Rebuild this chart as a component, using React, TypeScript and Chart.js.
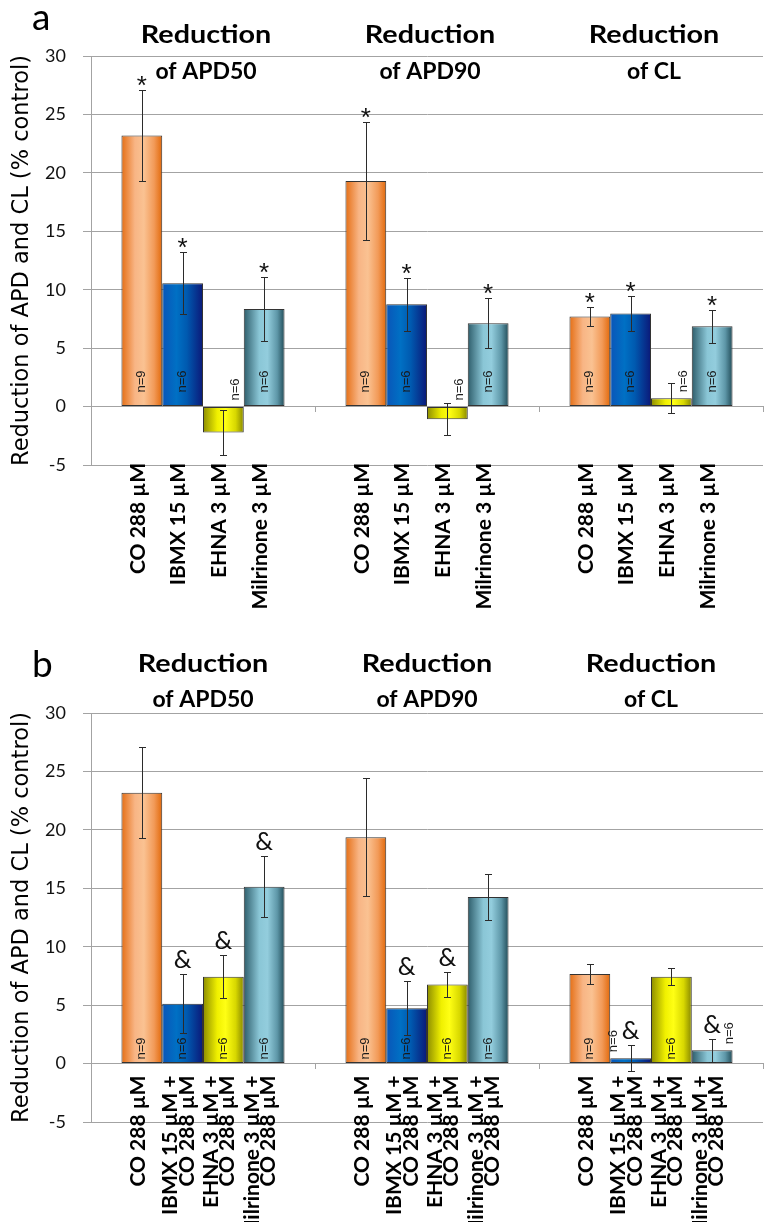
import React, { useEffect, useRef } from "react";
import { Chart, registerables } from "chart.js";

Chart.register(...registerables);

// ---------- shared categories / text ----------
const GROUPS = ["APD50", "APD90", "CL"];
const TITLE_TOP = "Reduction";
const TITLE_BOTTOM = ["of APD50", "of APD90", "of CL"];
const Y_TITLE = "Reduction of APD and CL (% control)";
const Y_MIN = -5;
const Y_MAX = 30;
const Y_STEP = 5;
const SERIES_NAMES = ["CO 288", "IBMX 15", "EHNA 3", "Milrinone 3"];
const N_LABELS = ["n=9", "n=6", "n=6", "n=6"];

// ---------- panel a ----------
const A_BAR_LABELS = ["CO 288 µM", "IBMX 15 µM", "EHNA 3 µM", "Milrinone 3 µM"];
const A_CO = [23.2, 19.3, 7.7];
const A_CO_ERR = [3.9, 5.05, 0.83];
const A_IBMX = [10.55, 8.75, 7.96];
const A_IBMX_ERR = [2.65, 2.25, 1.48];
const A_EHNA = [-2.22, -1.08, 0.71];
const A_EHNA_ERR = [1.95, 1.37, 1.27];
const A_MIL = [8.35, 7.13, 6.87];
const A_MIL_ERR = [2.75, 2.14, 1.41];
const A_SIG_CO = [true, true, true];
const A_SIG_IBMX = [true, true, true];
const A_SIG_EHNA = [false, false, false];
const A_SIG_MIL = [true, true, true];

// ---------- panel b ----------
const B_BAR_LABELS = [
  "CO 288 µM",
  ["IBMX 15 µM +", "CO 288 µM"],
  ["EHNA 3 µM +", "CO 288 µM"],
  ["Milrinone 3 µM +", "CO 288 µM"],
];
const B_CO = [23.17, 19.36, 7.66];
const B_CO_ERR = [3.9, 5.05, 0.84];
const B_IBMX = [5.12, 4.73, 0.46];
const B_IBMX_ERR = [2.53, 2.3, 1.12];
const B_EHNA = [7.43, 6.77, 7.43];
const B_EHNA_ERR = [1.82, 1.04, 0.72];
const B_MIL = [15.14, 14.26, 1.14];
const B_MIL_ERR = [2.63, 1.98, 0.98];
const B_SIG_CO = [false, false, false];
const B_SIG_IBMX = [true, true, true];
const B_SIG_EHNA = [true, true, false];
const B_SIG_MIL = [true, false, true];

// ---------- styles ----------
const GRID = "#a3a3a3";
const BORDER = "#333333";
const ERR_COLOR = "#2b2b2b";
const CAT_PCT = 0.728;
const BAR_PCT = 1.0;
const GRADIENTS: [number, string][][] = [
  [[0, "#E56E14"], [0.33, "#F8B585"], [0.55, "#FAC292"], [0.8, "#F29A58"], [1, "#E2690A"]],
  [[0, "#0A55B8"], [0.35, "#0070C4"], [0.6, "#005AB0"], [1, "#0B1878"]],
  [[0, "#8C8C00"], [0.35, "#F0F000"], [0.55, "#FFFF14"], [0.8, "#D8D800"], [1, "#878700"]],
  [[0, "#2E5D6B"], [0.38, "#8AC6D6"], [0.58, "#93CDDD"], [0.82, "#5E97A8"], [1, "#214C58"]],
];

type PanelCfg = {
  letter: string;
  letterBaseline: number;
  titleBaselines: [number, number];
  titleShift: number;
  padTop: number;
  padBottom: number;
  values: number[][];
  errors: number[][];
  marks: boolean[][];
  markSymbol: string;
  markFont: string;
  markGap: number;
  nGap: number;
  barLabels: (string | string[])[];
  labelsAtZero: boolean;
};

const PANEL_A: PanelCfg = {
  letter: "a",
  letterBaseline: 30,
  titleBaselines: [43, 79],
  titleShift: 3,
  padTop: 56,
  padBottom: 630 - 465,
  values: [A_CO, A_IBMX, A_EHNA, A_MIL],
  errors: [A_CO_ERR, A_IBMX_ERR, A_EHNA_ERR, A_MIL_ERR],
  marks: [A_SIG_CO, A_SIG_IBMX, A_SIG_EHNA, A_SIG_MIL],
  markSymbol: "*",
  markFont: '26px "Liberation Sans"',
  markGap: 4,
  nGap: 14,
  barLabels: A_BAR_LABELS,
  labelsAtZero: false,
};

const PANEL_B: PanelCfg = {
  letter: "b",
  letterBaseline: 47,
  titleBaselines: [42, 77],
  titleShift: 0,
  padTop: 83,
  padBottom: 592 - 492,
  values: [B_CO, B_IBMX, B_EHNA, B_MIL],
  errors: [B_CO_ERR, B_IBMX_ERR, B_EHNA_ERR, B_MIL_ERR],
  marks: [B_SIG_CO, B_SIG_IBMX, B_SIG_EHNA, B_SIG_MIL],
  markSymbol: "&",
  markFont: '25px Lato',
  markGap: 6,
  nGap: 4,
  barLabels: B_BAR_LABELS,
  labelsAtZero: true,
};

function barGradient(stops: [number, string][]) {
  return (c: any) => {
    const chart = c.chart;
    const xs = chart.scales && chart.scales.x;
    if (!xs || c.type !== "data" || !chart.chartArea) return stops[1][1];
    const n = chart.data.labels.length;
    const nd = chart.data.datasets.length;
    const catW = xs.width / n;
    const center = xs.getPixelForValue(c.dataIndex);
    const groupW = catW * CAT_PCT;
    const chunk = groupW / nd;
    const barW = chunk * BAR_PCT;
    const left = center - groupW / 2 + chunk * c.datasetIndex + (chunk - barW) / 2;
    const g = chart.ctx.createLinearGradient(left, 0, left + barW, 0);
    stops.forEach(([o, col]) => g.addColorStop(o, col));
    return g;
  };
}

function annotations(p: PanelCfg) {
  return {
    id: "annotations",
    afterDatasetsDraw(chart: any) {
      const { ctx } = chart;
      const ys = chart.scales.y;
      chart.data.datasets.forEach((ds: any, di: number) => {
        chart.getDatasetMeta(di).data.forEach((el: any, i: number) => {
          const v = ds.data[i];
          const e = p.errors[di][i];
          const x = Math.round(el.x) + 0.5;
          const top = Math.round(ys.getPixelForValue(v + e)) + 0.5;
          const bot = Math.round(ys.getPixelForValue(v - e)) + 0.5;
          ctx.save();
          ctx.strokeStyle = ERR_COLOR;
          ctx.lineWidth = 1;
          ctx.beginPath();
          ctx.moveTo(x, top);
          ctx.lineTo(x, bot);
          ctx.moveTo(x - 3.5, top);
          ctx.lineTo(x + 3.5, top);
          ctx.moveTo(x - 3.5, bot);
          ctx.lineTo(x + 3.5, bot);
          ctx.stroke();
          ctx.restore();
        });
      });
    },
    afterDraw(chart: any) {
      const { ctx, chartArea } = chart;
      const xs = chart.scales.x;
      const ys = chart.scales.y;
      const zeroY = ys.getPixelForValue(0);
      ctx.save();
      ctx.fillStyle = "#000";
      // panel letter
      ctx.font = "37px Lato";
      ctx.textAlign = "left";
      ctx.textBaseline = "alphabetic";
      ctx.fillText(p.letter, 32, p.letterBaseline);
      // group titles
      GROUPS.forEach((_g, gi) => {
        const cx = xs.getPixelForValue(gi) + p.titleShift;
        ctx.save();
        ctx.translate(cx, p.titleBaselines[0]);
        ctx.scale(1.15, 1);
        ctx.font = "bold 25px Lato";
        ctx.textAlign = "center";
        ctx.fillText(TITLE_TOP, 0, 0);
        ctx.restore();
        ctx.font = "bold 23px Lato";
        ctx.textAlign = "center";
        ctx.fillText(TITLE_BOTTOM[gi], cx, p.titleBaselines[1]);
      });
      // per-bar texts
      chart.data.datasets.forEach((ds: any, di: number) => {
        chart.getDatasetMeta(di).data.forEach((el: any, i: number) => {
          const v = ds.data[i];
          const e = p.errors[di][i];
          const x = el.x;
          const errTop = ys.getPixelForValue(v + e);
          const vY = ys.getPixelForValue(v);
          const mark = p.marks[di][i];
          if (mark) {
            ctx.font = p.markFont;
            ctx.textAlign = "center";
            ctx.textBaseline = "alphabetic";
            ctx.fillStyle = "#111";
            const m = ctx.measureText(p.markSymbol);
            ctx.fillText(p.markSymbol, x, errTop - p.markGap - m.actualBoundingBoxDescent);
          }
          // n label
          let nx = x;
          let ny = zeroY - p.nGap;
          if (v < 2) {
            const side = di === 1 ? -1 : 1;
            nx = x + side * (mark ? 17 : 12);
            ny = Math.min(zeroY, vY) - 6;
          }
          ctx.save();
          ctx.translate(nx, ny);
          ctx.rotate(-Math.PI / 2);
          ctx.font = '13px "Liberation Sans"';
          ctx.fillStyle = "#1a1a1a";
          ctx.textAlign = "left";
          ctx.textBaseline = "middle";
          ctx.fillText(N_LABELS[di], 0, 0);
          ctx.restore();
          // category label of the bar
          const lab = p.barLabels[di];
          const lines = Array.isArray(lab) ? lab : [lab];
          const y0 = p.labelsAtZero ? zeroY + 12 : chartArea.bottom - 2;
          ctx.save();
          ctx.translate(x - 4, y0);
          ctx.rotate(-Math.PI / 2);
          ctx.font = "bold 21px Lato";
          ctx.textAlign = "right";
          ctx.textBaseline = "middle";
          ctx.fillStyle = "#000";
          lines.forEach((ln, li) => ctx.fillText(ln, 0, (li - (lines.length - 1) / 2) * 16.5));
          ctx.restore();
        });
      });
      ctx.restore();
    },
  };
}

function buildConfig(p: PanelCfg): any {
  return {
    type: "bar",
    data: {
      labels: GROUPS,
      datasets: p.values.map((vals, di) => ({
        label: SERIES_NAMES[di],
        data: vals,
        backgroundColor: barGradient(GRADIENTS[di]),
        borderColor: BORDER,
        borderWidth: 1,
        borderSkipped: false,
        categoryPercentage: CAT_PCT,
        barPercentage: BAR_PCT,
      })),
    },
    options: {
      responsive: false,
      animation: false,
      devicePixelRatio: 1,
      events: [],
      layout: { padding: { left: 0, right: 1, top: p.padTop, bottom: p.padBottom } },
      plugins: {
        legend: { display: false },
        tooltip: { enabled: false },
        title: { display: false },
      },
      scales: {
        x: {
          type: "category",
          position: { y: 0 },
          offset: true,
          grid: {
            display: true,
            offset: true,
            drawOnChartArea: false,
            drawTicks: true,
            tickLength: 5,
            color: GRID,
          },
          border: { display: true, color: GRID },
          ticks: { display: false },
        },
        y: {
          type: "linear",
          position: "left",
          min: Y_MIN,
          max: Y_MAX,
          ticks: {
            stepSize: Y_STEP,
            color: "#111",
            font: { family: "Lato", size: 18 },
            padding: 17,
          },
          grid: { color: GRID, lineWidth: 1, tickLength: 8, drawTicks: true },
          border: { display: true, color: GRID },
          title: {
            display: true,
            text: Y_TITLE,
            color: "#000",
            font: { family: "DejaVu Sans", size: 22.5 },
            padding: { top: 9, bottom: 0 },
          },
          afterFit: (s: any) => {
            s.width = 91;
          },
        },
      },
    },
    plugins: [annotations(p)],
  };
}

function Panel({ cfg, width, height }: { cfg: PanelCfg; width: number; height: number }) {
  const ref = useRef<HTMLCanvasElement>(null);
  useEffect(() => {
    if (!ref.current) return;
    const chart = new Chart(ref.current, buildConfig(cfg));
    return () => chart.destroy();
  }, [cfg]);
  return (
    <canvas
      ref={ref}
      width={width}
      height={height}
      style={{ display: "block", width: width + "px", height: height + "px" }}
    />
  );
}

export default function App() {
  useEffect(() => {
    document.body.style.margin = "0";
    document.body.style.background = "#fff";
  }, []);
  return (
    <div style={{ width: 764, background: "#fff" }}>
      <Panel cfg={PANEL_A} width={764} height={630} />
      <Panel cfg={PANEL_B} width={764} height={592} />
    </div>
  );
}
